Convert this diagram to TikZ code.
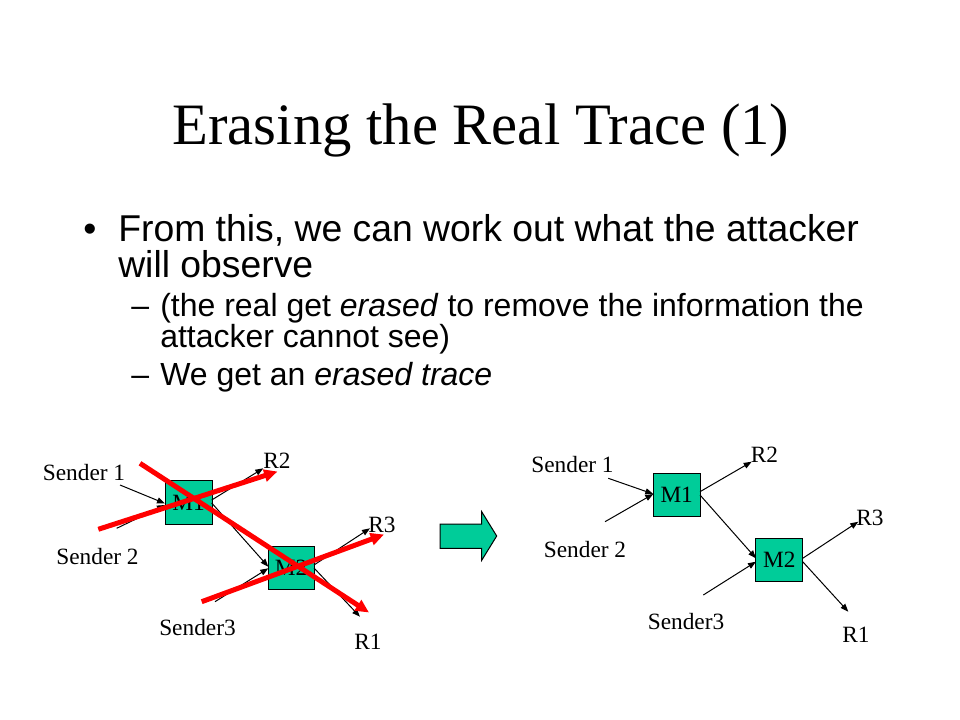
\documentclass[tikz,border=0pt]{standalone}
\usepackage{fontspec}
\setmainfont{Liberation Serif}
\newfontfamily\arialfont{Liberation Sans}
\usetikzlibrary{arrows.meta}
\definecolor{boxteal}{RGB}{0,204,153}
\definecolor{erasered}{RGB}{255,0,0}
\tikzset{
  mbox/.style={draw=black, line width=0.75pt, fill=boxteal, minimum width=35pt, minimum height=32.5pt, inner sep=0pt, font=\fontsize{17.5}{17.5}\selectfont},
  lbl/.style={inner sep=0pt, font=\fontsize{17.5}{17.5}\selectfont},
  flow/.style={draw=black, line width=0.75pt, -{Triangle[length=6pt,width=4.5pt]}},
  cross/.style={draw=erasered, line width=3.75pt, -{Triangle[length=10pt,width=9pt]}},
  bodytext/.style={inner sep=0pt, anchor=base west},
}
\begin{document}
\begin{tikzpicture}[x=0.75pt,y=-0.75pt]
\useasboundingbox (0,0) rectangle (960,720);
\fill[white] (0,0) rectangle (960,720);

% title
\node[inner sep=0pt, anchor=base, font=\fontsize{44}{44}\selectfont] (title) at (481,145) {Erasing the Real Trace (1)};

% bullets
\node[bodytext, font=\arialfont\fontsize{28}{28}\selectfont] (b1) at (83,241.5) {\textbullet};
\node[bodytext, text depth=0pt, font=\arialfont\fontsize{28}{28}\selectfont] (t1) at (118,241.5) {From this, we can work out what the attacker};
\node[bodytext, text height=16pt, font=\arialfont\fontsize{28}{28}\selectfont] (t2) at (118,277) {will observe};
\node[bodytext, font=\arialfont\fontsize{24}{24}\selectfont] (d1) at (131,316) {\char"2013};
\node[bodytext, text depth=0pt, font=\arialfont\fontsize{24}{24}\selectfont] (t3) at (160,316) {(the real get \textit{erased} to remove the information the};
\node[bodytext, text height=15pt, font=\arialfont\fontsize{24}{24}\selectfont] (t4) at (160,347) {attacker cannot see)};
\node[bodytext, font=\arialfont\fontsize{24}{24}\selectfont] (d2) at (131,385) {\char"2013};
\node[bodytext, font=\arialfont\fontsize{24}{24}\selectfont] (t5) at (160,385) {We get an \textit{erased trace}};

% ---------- left diagram ----------
\node[mbox, minimum width=35.25pt, minimum height=33pt] (LM1) at (188.5,502.5) {M1};
\node[mbox, minimum width=34.5pt, minimum height=32.25pt] (LM2) at (291,568) {M2};
\node[lbl] (LS1) at (84,473) {Sender 1};
\node[lbl] (LS2) at (97.5,557) {Sender 2};
\node[lbl] (LS3) at (197.5,628) {Sender3};
\node[lbl] (LR2) at (277,461) {R2};
\node[lbl] (LR3) at (382,525) {R3};
\node[lbl] (LR1) at (368,642) {R1};

\coordinate (ls1a) at (120,485);
\coordinate (ls1b) at (165,503.5);
\coordinate (ls2a) at (116.7,528.3);
\coordinate (ls2b) at (165,505);
\coordinate (lm1r2a) at (211.7,500);
\coordinate (lm1r2b) at (263.3,468.3);
\coordinate (lm1m2a) at (211.7,503);
\coordinate (lm1m2b) at (268.3,566.7);
\coordinate (ls3a) at (215,601.7);
\coordinate (ls3b) at (268.3,568.3);
\coordinate (lm2r3a) at (314,565);
\coordinate (lm2r3b) at (370,528.3);
\coordinate (lm2r1a) at (314,568);
\coordinate (lm2r1b) at (360,616.7);

\draw[flow] (ls1a) -- (ls1b);
\draw[flow] (ls2a) -- (ls2b);
\draw[flow] (lm1r2a) -- (lm1r2b);
\draw[flow] (lm1m2a) -- (lm1m2b);
\draw[flow] (ls3a) -- (ls3b);
\draw[flow] (lm2r3a) -- (lm2r3b);
\draw[flow] (lm2r1a) -- (lm2r1b);

% red erasing lines
\coordinate (x1a) at (140,463.3);
\coordinate (x1b) at (369,612.5);
\coordinate (x2a) at (98.3,529.3);
\coordinate (x2b) at (277.5,471.5);
\coordinate (x3a) at (201.7,601.7);
\coordinate (x3b) at (384,534.5);
\draw[cross] (x1a) -- (x1b);
\draw[cross] (x2a) -- (x2b);
\draw[cross] (x3a) -- (x3b);

% ---------- middle block arrow ----------
\filldraw[fill=boxteal, draw=black, line width=0.75pt]
  (440,524) -- (481.7,524) -- (481.7,511.7) -- (496.7,536) -- (481.7,560.3)
  -- (481.7,548.3) -- (440,548.3) -- cycle;

% ---------- right diagram ----------
\node[mbox] (RM1) at (676.7,495) {M1};
\node[mbox] (RM2) at (779.3,560) {M2};
\node[lbl] (RS1) at (572.5,465) {Sender 1};
\node[lbl] (RS2) at (585,550) {Sender 2};
\node[lbl] (RS3) at (686,621.7) {Sender3};
\node[lbl] (RR2) at (764.5,455) {R2};
\node[lbl] (RR3) at (870,518.3) {R3};
\node[lbl] (RR1) at (856,635) {R1};

\coordinate (rs1a) at (608.3,478.3);
\coordinate (rs2a) at (605,521.7);
\coordinate (rs12b) at (653.3,494);
\coordinate (rm1r2a) at (700,491.7);
\coordinate (rm1r2b) at (751.7,461.7);
\coordinate (rm1m2a) at (700,495);
\coordinate (rm1m2b) at (756,558.3);
\coordinate (rs3a) at (703.3,595);
\coordinate (rs3b) at (756,561.7);
\coordinate (rm2r3a) at (802.7,558.3);
\coordinate (rm2r3b) at (858.3,521.7);
\coordinate (rm2r1a) at (802.7,561.7);
\coordinate (rm2r1b) at (848.3,611.7);

\draw[flow] (rs1a) -- (rs12b);
\draw[flow] (rs2a) -- (rs12b);
\draw[flow] (rm1r2a) -- (rm1r2b);
\draw[flow] (rm1m2a) -- (rm1m2b);
\draw[flow] (rs3a) -- (rs3b);
\draw[flow] (rm2r3a) -- (rm2r3b);
\draw[flow] (rm2r1a) -- (rm2r1b);
\end{tikzpicture}
\end{document}
